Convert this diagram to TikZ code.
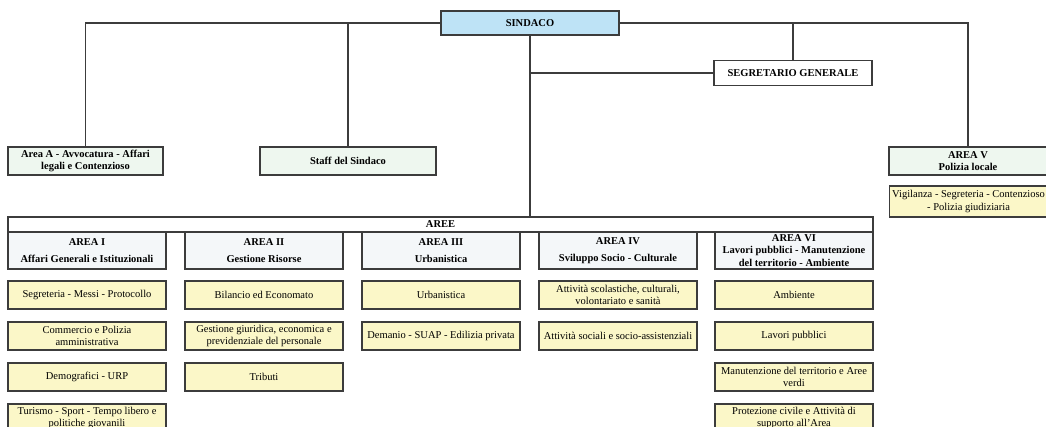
\documentclass[tikz,border=0pt]{standalone}
\usepackage{fontspec}
\setmainfont{Liberation Serif}
\definecolor{mayorblue}{HTML}{BEE3F6}
\definecolor{staffgreen}{HTML}{EEF7EF}
\definecolor{headgray}{HTML}{F4F7F9}
\definecolor{officeyellow}{HTML}{FBF7C8}
\definecolor{linegray}{HTML}{3C3C3C}
\tikzset{
  box/.style={draw=linegray, line width=1.1pt, inner sep=1pt, align=center, font=\fontsize{10.5}{12.5}\selectfont\bfseries},
  mayor/.style={box, fill=mayorblue, minimum width=178pt, minimum height=24pt},
  staffbox/.style={box, fill=staffgreen, minimum width=#1, minimum height=28pt},
  headbox/.style={box, fill=headgray, minimum width=158pt, minimum height=37pt},
  office/.style={box, fill=officeyellow, minimum width=158pt, minimum height=28pt, font=\fontsize{10.5}{12.5}\selectfont},
  link/.style={draw=linegray, line width=1.1pt}
}
\begin{document}
\begin{tikzpicture}[x=1pt, y=-1pt]
\clip (0,0) rectangle (1046,427);
\fill[white] (0,0) rectangle (1046,427);
\node[mayor] (sindaco) at (530,23) {SINDACO};
\node[box, fill=white, minimum width=158pt, minimum height=25pt] (segretario) at (793,73) {SEGRETARIO GENERALE};
\node[staffbox=155pt] (areaA) at (85.5,161) {Area A - Avvocatura - Affari\\legali e Contenzioso};
\node[staffbox=176pt] (staff) at (348,161) {Staff del Sindaco};
\node[staffbox=158pt] (areaV) at (968,161) {AREA V\\Polizia locale};
\node[office, minimum width=158pt, minimum height=31pt, anchor=west] (vigilanza) at (889,201.5) {Vigilanza - Segreteria - Contenzioso\\- Polizia giudiziaria};
\node[box, fill=white, minimum width=865pt, minimum height=15pt, inner sep=0pt] (aree) at (440.5,224.5) {AREE};
\node[headbox] (area1) at (87,250.5) {AREA I\\[5pt]Affari Generali e Istituzionali};
\node[headbox] (area2) at (264,250.5) {AREA II\\[5pt]Gestione Risorse};
\node[headbox] (area3) at (441,250.5) {AREA III\\[5pt]Urbanistica};
\node[headbox] (area4) at (618,250.5) {AREA IV\\[5pt]Sviluppo Socio - Culturale};
\node[headbox] (area6) at (794,250.5) {AREA VI\\Lavori pubblici - Manutenzione\\del territorio - Ambiente};
\node[office] (segreteria) at (87,295) {Segreteria - Messi - Protocollo};
\node[office] (commercio) at (87,336) {Commercio e Polizia\\amministrativa};
\node[office] (demografici) at (87,377) {Demografici - URP};
\node[office] (turismo) at (87,418) {Turismo - Sport - Tempo libero e\\politiche giovanili};
\node[office] (bilancio) at (264,295) {Bilancio ed Economato};
\node[office] (personale) at (264,336) {Gestione giuridica, economica e\\previdenziale del personale};
\node[office] (tributi) at (264,377) {Tributi};
\node[office] (urbanistica) at (441,295) {Urbanistica};
\node[office] (demanio) at (441,336) {Demanio - SUAP - Edilizia privata};
\node[office] (scuola) at (618,295) {Attività scolastiche, culturali,\\volontariato e sanità};
\node[office] (sociali) at (618,336) {Attività sociali e socio-assistenziali};
\node[office] (ambiente) at (794,295) {Ambiente};
\node[office] (lavori) at (794,336) {Lavori pubblici};
\node[office] (verde) at (794,377) {Manutenzione del territorio e Aree\\verdi};
\node[office] (protezione) at (794,418) {Protezione civile e Attività di\\supporto all'Area};
\draw[link] (sindaco.west) -| (areaA.north);
\draw[link] (staff.north) |- (sindaco.west);
\draw[link] (sindaco.east) -| (areaV.north);
\draw[link] (segretario.north) |- (sindaco.east);
\draw[link] (sindaco.south) -- (sindaco.south |- aree.north);
\draw[link] (segretario.west) -- (segretario.west -| sindaco.south);
\end{tikzpicture}
\end{document}
